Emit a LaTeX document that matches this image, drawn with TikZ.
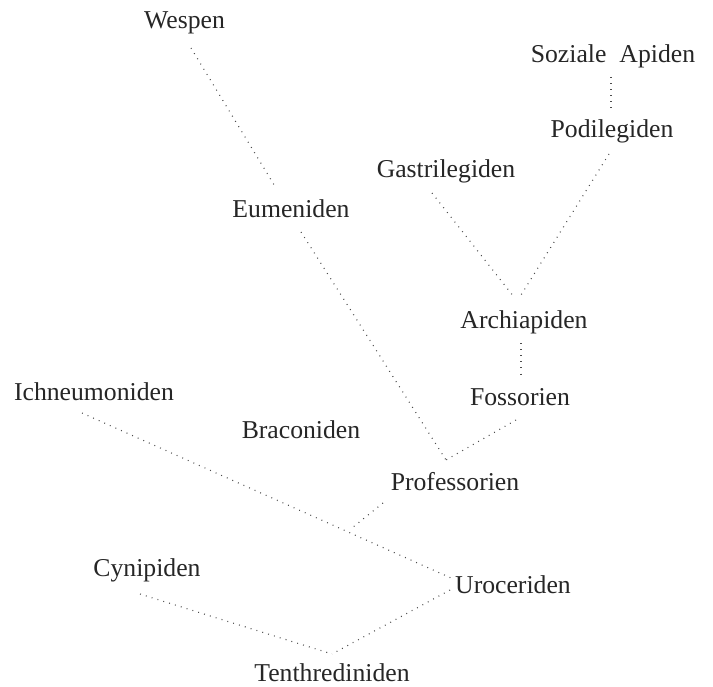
\documentclass[tikz,border=0pt]{standalone}
\usepackage{fontspec}
\setmainfont{Liberation Serif}
\begin{document}
\begin{tikzpicture}[x=1bp,y=-1bp,
  lab/.style={anchor=base, inner sep=0pt, text=black!85, font=\fontsize{25.8}{30}\selectfont},
  link/.style={draw=black!70, line width=1.1bp, dash pattern=on 0.9bp off 5.2bp}]
\useasboundingbox[fill=white] (0,0) rectangle (713,687);
% labels
\node[lab] (wes) at (184.5,29) {Wespen};
\node[lab] (soz) at (613,63) {Soziale\hspace*{13bp}Apiden};
\node[lab] (pod) at (612,138) {Podilegiden};
\node[lab] (gas) at (446,177) {Gastrilegiden};
\node[lab] (eum) at (291,217) {Eumeniden};
\node[lab] (arc) at (524,328) {Archiapiden};
\node[lab] (fos) at (520,405) {Fossorien};
\node[lab] (ich) at (94,400) {Ichneumoniden};
\node[lab] (bra) at (301,438) {Braconiden};
\node[lab] (pro) at (455,490) {Professorien};
\node[lab] (cyn) at (147,576) {Cynipiden};
\node[lab] (uro) at (513,593) {Uroceriden};
\node[lab] (ten) at (332,681) {Tenthrediniden};
% connector end points
\coordinate (wesS) at (191,48);
\coordinate (eumN) at (276,188);
\coordinate (eumS) at (301,232);
\coordinate (proV) at (446,460);
\coordinate (sozS) at (611,77);
\coordinate (podN) at (611,110);
\coordinate (podS) at (609,154);
\coordinate (arcR) at (521,295);
\coordinate (gasS) at (432,193);
\coordinate (arcL) at (514,297);
\coordinate (arcS) at (521,343);
\coordinate (fosN) at (521,375);
\coordinate (fosS) at (516,420);
\coordinate (proS) at (383,503);
\coordinate (junc) at (352,528);
\coordinate (ichS) at (82,413);
\coordinate (uroW) at (451,578);
\coordinate (uroS) at (450,590);
\coordinate (tenV) at (332,654);
\coordinate (cynS) at (140,594);
% connectors
\draw[link] (wesS) -- (eumN);
\draw[link] (eumS) -- (proV);
\draw[link] (sozS) -- (podN);
\draw[link] (podS) -- (arcR);
\draw[link] (gasS) -- (arcL);
\draw[link] (arcS) -- (fosN);
\draw[link] (fosS) -- (proV);
\draw[link] (proS) -- (junc);
\draw[link] (ichS) -- (uroW);
\draw[link] (uroS) -- (tenV);
\draw[link] (cynS) -- (tenV);
\end{tikzpicture}
\end{document}
